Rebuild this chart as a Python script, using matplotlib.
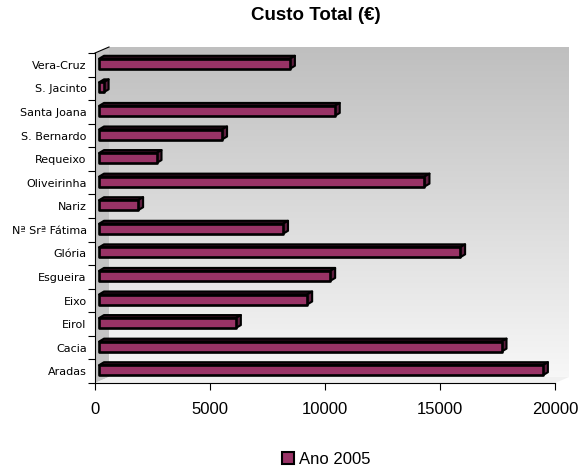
import matplotlib
matplotlib.use('Agg')
import matplotlib.pyplot as plt
import numpy as np
from matplotlib.patches import Polygon, Rectangle, Patch
from matplotlib.colors import LinearSegmentedColormap

# ---- data ----
categories = ['Aradas', 'Cacia', 'Eirol', 'Eixo', 'Esgueira', 'Glória',
              'Nª Srª Fátima', 'Nariz', 'Oliveirinha', 'Requeixo',
              'S. Bernardo', 'Santa Joana', 'S. Jacinto', 'Vera-Cruz']
values = [19300, 17500, 5950, 9050, 10050, 15700, 8000, 1700, 14150, 2500,
          5350, 10250, 200, 8300]
series_name = 'Ano 2005'
title = 'Custo Total (€)'
xticks = [0, 5000, 10000, 15000, 20000]

# ---- layout ----
W, H = 584, 473
fig = plt.figure(figsize=(W / 100, H / 100), dpi=100)
x0p, x1p, ytop, ybot = 95, 555, 53, 383
ax = fig.add_axes([x0p / W, (H - ybot) / H, (x1p - x0p) / W, (ybot - ytop) / H])
n = len(categories)
xmax = xticks[-1]
ux = xmax / (x1p - x0p)    # data units per pixel (x)
uy = n / (ybot - ytop)     # data units per pixel (y)

bar_color = '#993366'
top_color = '#2a0c1b'
side_color = '#5e1f3f'

# walls (3D look)
dxw, dyw = 14 * ux, 6 * uy
grad = np.linspace(0, 1, 256).reshape(-1, 1)
cmap = LinearSegmentedColormap.from_list('wall', ['#bfbfbf', '#f7f7f7'])
ax.imshow(grad, cmap=cmap, aspect='auto', origin='upper',
          extent=[dxw, xmax + dxw, -0.5 + dyw, n - 0.5 + dyw],
          zorder=0, clip_on=False)
side = Polygon([(0, -0.5), (0, n - 0.5), (dxw, n - 0.5 + dyw), (dxw, -0.5 + dyw)],
               closed=True, facecolor='#c4c4c4', edgecolor='none', zorder=0.5, clip_on=False)
ax.add_patch(side)
floor = Polygon([(0, -0.5), (xmax, -0.5), (xmax + dxw, -0.5 + dyw), (dxw, -0.5 + dyw)],
                closed=True, facecolor='#f0f0f0', edgecolor='none', zorder=0.5, clip_on=False)
ax.add_patch(floor)
ax.plot([0, dxw], [n - 0.5, n - 0.5 + dyw], color='black', lw=0.8, clip_on=False, zorder=3)

# bars
bh = 10 * uy
fx = 4 * ux
fdy = 1 * uy
ddx, ddy = 5 * ux, 3 * uy
for i, v in enumerate(values):
    y0 = i - bh / 2 + fdy
    ax.add_patch(Polygon([(fx, y0 + bh), (fx + v, y0 + bh), (fx + v + ddx, y0 + bh + ddy),
                          (fx + ddx, y0 + bh + ddy)], closed=True, facecolor=top_color,
                         edgecolor='black', lw=1.5, zorder=4, clip_on=False, joinstyle='round'))
    ax.add_patch(Polygon([(fx + v, y0), (fx + v + ddx, y0 + ddy), (fx + v + ddx, y0 + bh + ddy),
                          (fx + v, y0 + bh)], closed=True, facecolor=side_color,
                         edgecolor='black', lw=1.5, zorder=4, clip_on=False, joinstyle='round'))
    ax.add_patch(Rectangle((fx, y0), v, bh, facecolor=bar_color, edgecolor='black',
                           lw=1.9, zorder=5, clip_on=False, joinstyle='round'))

ax.set_xlim(0, xmax)
ax.set_ylim(-0.5, n - 0.5)

# axes styling
for s in ['top', 'right']:
    ax.spines[s].set_visible(False)
for s in ['left', 'bottom']:
    ax.spines[s].set_linewidth(0.8)
    ax.spines[s].set_zorder(6)

ax.set_xticks(xticks)
ax.set_xticklabels([str(t) for t in xticks], fontsize=12, family='Liberation Sans')
ax.tick_params(axis='x', length=5, width=0.8, direction='out', pad=9)

ax.set_yticks(np.arange(-0.5, n, 1))
ax.set_yticklabels([])
ax.set_yticks(np.arange(n), minor=True)
ax.set_yticklabels(categories, minor=True, fontsize=8, family='DejaVu Sans')
ax.tick_params(axis='y', which='major', length=5, width=0.8, direction='out')
ax.tick_params(axis='y', which='minor', length=0, pad=6)

# title
fig.text(316 / W, 1 - 15 / H, title, ha='center', va='center', fontsize=13.5,
         fontweight='bold', family='Liberation Sans')

# legend
handle = Patch(facecolor=bar_color, edgecolor='black', lw=1.5)
fig.legend([handle], [series_name], loc='center', bbox_to_anchor=(326 / W, 1 - 459 / H),
           frameon=False, handlelength=0.75, handleheight=0.75, handletextpad=0.25,
           prop={'family': 'Liberation Sans', 'size': 12})

fig.savefig('out.png', dpi=100)
